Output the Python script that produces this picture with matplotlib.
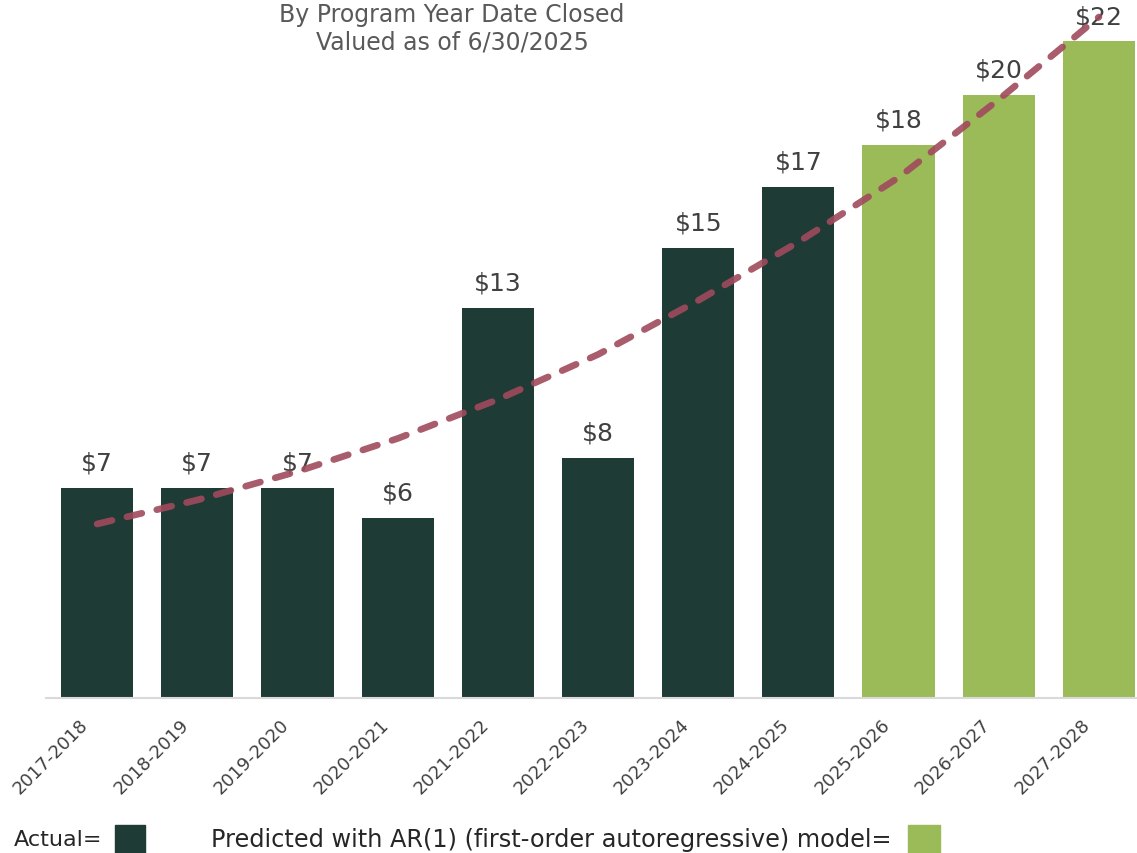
import matplotlib.pyplot as plt
from matplotlib.patches import Rectangle
from matplotlib.transforms import ScaledTranslation

years = ["2017-2018", "2018-2019", "2019-2020", "2020-2021", "2021-2022",
         "2022-2023", "2023-2024", "2024-2025", "2025-2026", "2026-2027",
         "2027-2028"]
amounts = [7.0, 7.0, 7.0, 6.0, 13.0, 8.0, 15.0, 17.05, 18.45, 20.1, 21.9]
predicted = [False, False, False, False, False, False, False, False,
             True, True, True]
trend = [5.8, 6.6, 7.55, 8.65, 9.95, 11.45, 13.25, 15.2, 17.35, 19.95, 22.7]

DARK = "#1f3b36"
LIGHT = "#9bbb59"
TEXT = "#404040"

fig = plt.figure(figsize=(11.37, 8.54), dpi=100)
W, H = 1137, 854
ax = fig.add_axes([46 / W, (H - 699) / H, (W - 46) / W, 699 / H])

x = list(range(len(years)))
colors = [LIGHT if p else DARK for p in predicted]
ax.bar(x, amounts, width=0.72, color=colors, zorder=2)
for xi, v in zip(x, amounts):
    ax.text(xi, v + 0.6, "$" + str(int(round(v))), ha="center",
            va="baseline", fontsize=18, color=TEXT, zorder=3)

ax.plot(x, trend, color="#a04a5c", linewidth=4.8, linestyle=(0, (2.3, 2.3)),
        dash_capstyle="round", alpha=0.9, zorder=4)

ax.set_xlim(-0.51, 10.38)
ax.set_ylim(0, 699 / 30)
ax.set_yticks([])
for side in ["top", "right", "left"]:
    ax.spines[side].set_visible(False)
ax.spines["bottom"].set_color("#d9d9d9")
ax.spines["bottom"].set_linewidth(1.5)
ax.tick_params(axis="x", length=0, pad=12)
ax.set_xticks(x)
ax.set_xticklabels(years, rotation=45, ha="right", rotation_mode="anchor",
                   fontsize=13, color=TEXT)
shift = ScaledTranslation(-18 / 100, 0, fig.dpi_scale_trans)
for lab in ax.get_xticklabels():
    lab.set_transform(lab.get_transform() + shift)

fig.text(452 / W, 1 - 29 / H, "By Program Year Date Closed\nValued as of 6/30/2025",
         ha="center", va="center", fontsize=17, color="#595959",
         linespacing=1.2)

fig.text(14 / W, 1 - 840 / H, "Actual=", ha="left", va="center",
         fontsize=16, color="#262626")
fig.patches.append(Rectangle((115 / W, 0), 30 / W, 28 / H, color=DARK,
                             transform=fig.transFigure, figure=fig))
fig.text(211 / W, 1 - 840 / H,
         "Predicted with AR(1) (first-order autoregressive) model=",
         ha="left", va="center", fontsize=17.3, color="#262626")
fig.patches.append(Rectangle((908 / W, 0), 32 / W, 28 / H, color=LIGHT,
                             transform=fig.transFigure, figure=fig))

fig.savefig("out.png", dpi=100)
